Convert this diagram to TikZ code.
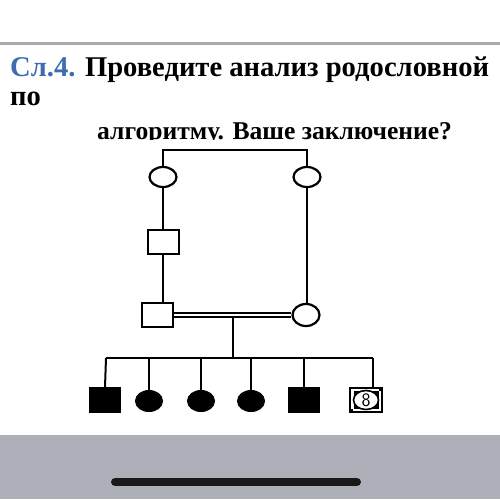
\documentclass[tikz,border=0pt]{standalone}
\usepackage{fontspec}
\setmainfont{Liberation Serif}
\usetikzlibrary{shapes.geometric}
\definecolor{titleblue}{HTML}{3B6DB0}
\definecolor{barsgray}{HTML}{ADB0B8}
\definecolor{linegray}{HTML}{A8AAB0}
\begin{document}
\begin{tikzpicture}[x=1pt,y=-1pt,
  fem/.style={ellipse,draw,line width=2.2pt,minimum width=27pt,minimum height=20pt,inner sep=0pt,fill=white},
  male/.style={rectangle,draw,line width=2pt,minimum width=31pt,minimum height=24pt,inner sep=0pt,fill=white},
  affm/.style={rectangle,draw,fill=black,line width=1pt,minimum width=31pt,minimum height=25pt,inner sep=0pt},
  afff/.style={ellipse,draw,fill=black,line width=1pt,minimum width=27pt,minimum height=21pt,inner sep=0pt},
  lnk/.style={line width=2pt},
  title/.style={anchor=base west,inner sep=0pt,font=\fontsize{28.6}{34}\selectfont\bfseries}]
\useasboundingbox (0,0) rectangle (500,499);
\fill[white] (0,0) rectangle (500,499);
% top gray rule
\fill[linegray] (0,42) rectangle (500,45);
% title
\node[title] (t1) at (10,76) {\textcolor{titleblue}{Сл.4.} Проведите анализ родословной};
\node[title] (t2) at (10,105) {по};
\begin{scope}
\clip (0,110) rectangle (500,139);
\node[title,font=\fontsize{25.6}{30}\selectfont\bfseries] (t3) at (97,139) {алгоритму. Ваше заключение?};
\end{scope}
% pedigree
\node[fem] (c1) at (163,177) {};
\node[fem] (c2) at (307,177) {};
\node[male] (s1) at (163,242) {};
\node[male] (s2) at (157,315) {};
\node[fem,minimum height=22pt] (c3) at (306,315) {};
\coordinate (tl) at (163,150);
\coordinate (tr) at (307,150);
\draw[lnk] (c1.north) -- (tl) -- (tr) -- (c2.north);
\draw[lnk] (c1.south) -- (s1.north);
\draw[lnk] (s1.south) -- (s1.south |- s2.north);
\draw[lnk] (c2.south) -- (c2.south |- c3.north);
\draw[line width=1.5pt,double,double distance=2.8pt] (s2.east) -- (c3.west);
\coordinate (d0) at (233,317);
\coordinate (d1) at (233,358);
\draw[lnk] (d0) -- (d1);
% children
\node[affm] (k1) at (105,400) {};
\node[afff] (k2) at (149,401) {};
\node[afff] (k3) at (201,401) {};
\node[afff] (k4) at (251,401) {};
\node[affm] (k5) at (304,400) {};
\node[rectangle,draw,line width=1.8pt,minimum width=32pt,minimum height=25pt,inner sep=0pt,fill=black] (k6) at (366,400) {};
\fill[white] (k6.north west) ++(2.2,2.2) rectangle ++(2.2,20.6);
\fill[white] (k6.north west) ++(2.2,2.2) rectangle ++(27.6,2);
\fill[white] (k6.south east) ++(-2.2,-2.2) rectangle ++(-2.2,-20.6);
\fill[white] (k6.south east) ++(-2.2,-2.2) rectangle ++(-27.6,-2);
\node[ellipse,draw,line width=1.6pt,fill=white,minimum width=25pt,minimum height=19pt,inner sep=0pt,font=\fontsize{19}{19}\selectfont\sffamily] (k6in) at (k6.center) {8};
\coordinate (sl) at (106,358);
\coordinate (sr) at (373,358);
\draw[lnk] (sl) -- (sr);
\draw[lnk] (sl) -- (k1.north);
\draw[lnk] (k2 |- sl) -- (k2.north);
\draw[lnk] (k3 |- sl) -- (k3.north);
\draw[lnk] (k4 |- sl) -- (k4.north);
\draw[lnk] (k5 |- sl) -- (k5.north);
\draw[lnk] (sr) -- (sr |- k6.north);
% bottom gray area
\fill[barsgray] (0,435) rectangle (500,499);
\coordinate (h1) at (115,482);
\coordinate (h2) at (357,482);
\draw[line width=8pt,line cap=round,black!90] (h1) -- (h2);
\end{tikzpicture}
\end{document}
